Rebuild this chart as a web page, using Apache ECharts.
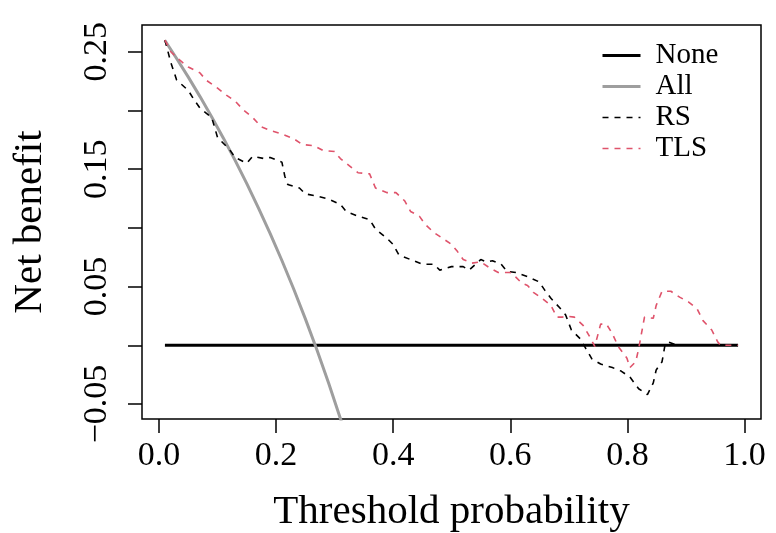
<!DOCTYPE html>
<html>
<head>
<meta charset="utf-8">
<script src="https://cdn.jsdelivr.net/npm/echarts@6/dist/echarts.min.js"></script>
<style>
html,body{margin:0;padding:0;background:#fff;}
#chart{width:776px;height:533px;}
</style>
</head>
<body>
<div id="chart"></div>
<script>
// ---- data ----
var seriesNames = ['None', 'All', 'RS', 'TLS'];
var noneX = [0.01, 0.99];
var noneY = [0, 0];
var allX = [0.01, 0.03, 0.05, 0.07, 0.09, 0.11, 0.13, 0.15, 0.17, 0.19, 0.21, 0.23, 0.25, 0.27, 0.29, 0.31, 0.33];
var allY = [0.2596, 0.2443, 0.2284, 0.2118, 0.1945, 0.1764, 0.1575, 0.1377, 0.1169, 0.0951, 0.0722, 0.0481, 0.0227, -0.0041, -0.0324, -0.0623, -0.0940];
var rsX = [0.01, 0.02, 0.03, 0.05, 0.06, 0.07, 0.09, 0.10, 0.12, 0.13, 0.15, 0.16, 0.18, 0.19, 0.21, 0.215, 0.22, 0.24, 0.25, 0.27, 0.29, 0.31, 0.32, 0.34, 0.36, 0.37, 0.39, 0.40, 0.41, 0.43, 0.45, 0.47, 0.48, 0.50, 0.52, 0.53, 0.55, 0.56, 0.57, 0.585, 0.595, 0.61, 0.63, 0.65, 0.66, 0.67, 0.685, 0.695, 0.705, 0.72, 0.73, 0.74, 0.755, 0.775, 0.79, 0.805, 0.82, 0.835, 0.845, 0.85, 0.86, 0.865, 0.87, 0.88, 0.885, 0.99];
var rsY = [0.260, 0.241, 0.226, 0.217, 0.209, 0.202, 0.194, 0.177, 0.167, 0.160, 0.155, 0.161, 0.159, 0.160, 0.156, 0.144, 0.137, 0.134, 0.129, 0.127, 0.1245, 0.120, 0.114, 0.110, 0.107, 0.099, 0.091, 0.086, 0.077, 0.073, 0.069, 0.069, 0.064, 0.067, 0.067, 0.064, 0.073, 0.071, 0.072, 0.069, 0.063, 0.062, 0.0585, 0.054, 0.0465, 0.040, 0.032, 0.026, 0.013, 0.0056, -0.003, -0.0116, -0.016, -0.019, -0.022, -0.027, -0.037, -0.042, -0.032, -0.021, -0.014, 0.000, 0.003, 0.001, 0, 0];
var tlsX = [0.01, 0.02, 0.035, 0.05, 0.07, 0.08, 0.10, 0.115, 0.13, 0.145, 0.16, 0.175, 0.19, 0.21, 0.23, 0.245, 0.265, 0.28, 0.30, 0.31, 0.325, 0.34, 0.36, 0.37, 0.39, 0.405, 0.42, 0.43, 0.445, 0.455, 0.47, 0.485, 0.50, 0.51, 0.52, 0.535, 0.55, 0.565, 0.58, 0.60, 0.61, 0.62, 0.63, 0.64, 0.655, 0.67, 0.68, 0.69, 0.695, 0.71, 0.725, 0.735, 0.745, 0.755, 0.765, 0.775, 0.785, 0.80, 0.805, 0.815, 0.82, 0.83, 0.845, 0.85, 0.86, 0.875, 0.89, 0.905, 0.92, 0.93, 0.945, 0.955, 0.96, 0.99];
var tlsY = [0.260, 0.250, 0.243, 0.237, 0.232, 0.226, 0.219, 0.213, 0.208, 0.200, 0.194, 0.186, 0.183, 0.180, 0.176, 0.171, 0.170, 0.166, 0.165, 0.159, 0.153, 0.147, 0.146, 0.134, 0.130, 0.130, 0.123, 0.114, 0.110, 0.103, 0.096, 0.091, 0.086, 0.080, 0.073, 0.070, 0.071, 0.066, 0.062, 0.062, 0.058, 0.053, 0.051, 0.045, 0.040, 0.034, 0.024, 0.024, 0.025, 0.024, 0.017, 0.0085, -0.001, 0.018, 0.018, 0.010, -0.001, -0.011, -0.019, -0.014, -0.003, 0.024, 0.023, 0.034, 0.046, 0.046, 0.041, 0.037, 0.031, 0.021, 0.013, 0.003, 0, 0];
var xTickValues = [0, 0.2, 0.4, 0.6, 0.8, 1.0];
var xTickLabels = ['0.0', '0.2', '0.4', '0.6', '0.8', '1.0'];
var yTickValues = [-0.05, 0, 0.05, 0.10, 0.15, 0.20, 0.25];
var yTickLabels = ['\u22120.05', '', '0.05', '', '0.15', '', '0.25'];
var xTitle = 'Threshold probability';
var yTitle = 'Net benefit';

function pairs(xs, ys) { return xs.map(function (x, i) { return [x, ys[i]]; }); }
function lookup(vals, labels, v) {
  var best = 0, d = Infinity;
  for (var i = 0; i < vals.length; i++) { var dd = Math.abs(vals[i] - v); if (dd < d) { d = dd; best = i; } }
  return d < 1e-6 ? labels[best] : '';
}

var FONT = '"Liberation Serif", "Times New Roman", serif';
var colors = ['#000000', '#9E9E9E', '#000000', '#DF536B'];
var widths = [3, 3, 1.6, 1.6];
var dashes = ['solid', 'solid', [6, 6], [6, 6]];
var chart = echarts.init(document.getElementById('chart'), null, {renderer: 'canvas'});
chart.setOption({
  animation: false,
  backgroundColor: '#fff',
  grid: [
    {left: 142, right: 15, top: 25, bottom: 114, show: true, borderColor: '#000', borderWidth: 1.5, backgroundColor: 'transparent'},
    {left: 159, right: 31.5, top: 51.7, bottom: 129, show: false}
  ],
  xAxis: [
    {gridIndex: 0, type: 'value', min: -0.0292, max: 1.0292, show: false},
    {gridIndex: 1, type: 'value', min: 0, max: 1, interval: 0.2, position: 'bottom', offset: 15,
      axisLine: {show: false, onZero: false}, splitLine: {show: false},
      axisTick: {show: true, inside: false, length: 14, lineStyle: {color: '#000', width: 1.5}},
      axisLabel: {show: true, margin: 20, color: '#000', fontFamily: FONT, fontSize: 34,
        formatter: function (v) { return lookup(xTickValues, xTickLabels, v); }}}
  ],
  yAxis: [
    {gridIndex: 0, type: 'value', min: -0.0628, max: 0.2728, show: false},
    {gridIndex: 1, type: 'value', min: -0.05, max: 0.25, interval: 0.05, position: 'left', offset: 17,
      axisLine: {show: false, onZero: false}, splitLine: {show: false},
      axisTick: {show: true, inside: false, length: 14, lineStyle: {color: '#000', width: 1.5}},
      axisLabel: {show: true, rotate: 90, margin: 28, color: '#000', fontFamily: FONT, fontSize: 34,
        formatter: function (v) { return lookup(yTickValues, yTickLabels, v); }}}
  ],
  legend: {
    orient: 'vertical', left: 596, top: 36, itemWidth: 38, itemHeight: 14, itemGap: 2,
    itemStyle: {opacity: 0},
    textStyle: {fontFamily: FONT, fontSize: 29, color: '#000', padding: [0, 0, 0, 10]},
    data: seriesNames.map(function (n, i) {
      return {name: n, lineStyle: {width: widths[i], color: colors[i], type: dashes[i]}};
    })
  },
  series: seriesNames.map(function (n, i) {
    var xs = [noneX, allX, rsX, tlsX][i], ys = [noneY, allY, rsY, tlsY][i];
    return {name: n, type: 'line', xAxisIndex: 0, yAxisIndex: 0, data: pairs(xs, ys),
      showSymbol: false, symbol: 'none', clip: true,
      lineStyle: {color: colors[i], width: widths[i], type: dashes[i]}, itemStyle: {color: colors[i]}};
  }),
  graphic: [
    {type: 'text', x: 451.5, y: 512, style: {text: xTitle, font: '41px ' + FONT, fill: '#000', textAlign: 'center', textVerticalAlign: 'middle'}},
    {type: 'text', x: 30, y: 222, rotation: Math.PI / 2, style: {text: yTitle, font: '41px ' + FONT, fill: '#000', textAlign: 'center', textVerticalAlign: 'middle'}}
  ]
});
</script>
</body>
</html>
